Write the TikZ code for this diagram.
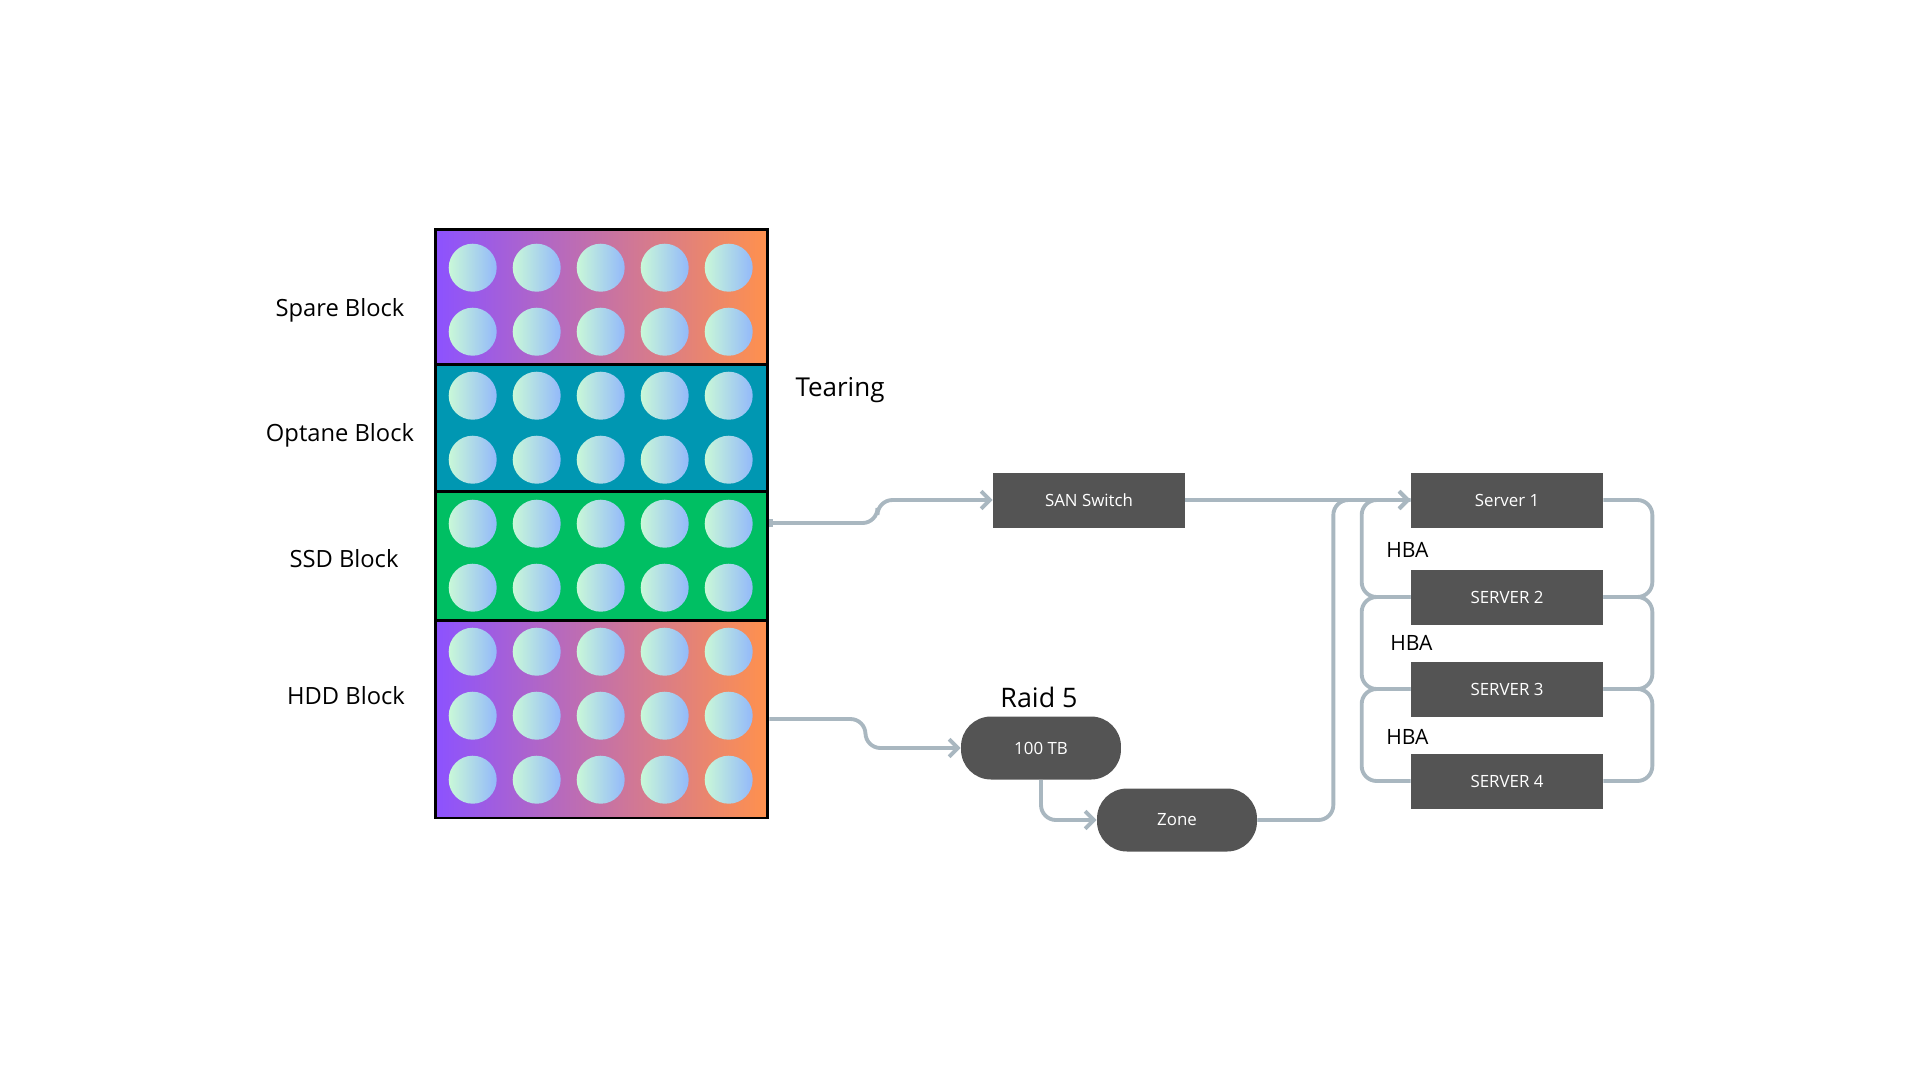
\documentclass[tikz,border=0pt]{standalone}
\usepackage{fontspec}
\setmainfont{Open Sans}
\usetikzlibrary{arrows.meta,positioning}

\definecolor{spareleft}{HTML}{8C52FF}
\definecolor{spareright}{HTML}{FF914D}
\definecolor{optanefill}{HTML}{0097B2}
\definecolor{ssdfill}{HTML}{00BF63}
\definecolor{diskleft}{HTML}{C9F8D8}
\definecolor{diskright}{HTML}{93B9FA}
\definecolor{boxgray}{HTML}{545454}
\definecolor{wiregray}{HTML}{A9B7C0}

\begin{document}
\begin{tikzpicture}[x=0.02cm,y=-0.02cm,>={Straight Barb[length=5pt,width=10pt]},
  block/.style={rectangle,draw=black,line width=1.7pt,minimum width=6.66cm,inner sep=0pt},
  block label/.style={font=\fontsize{13.5}{16}\selectfont},
  dark box/.style={rectangle,fill=boxgray,text=white,inner sep=0pt,
    minimum width=3.84cm,minimum height=1.1cm,font=\fontsize{9.6}{11}\selectfont},
  pill node/.style={rectangle,rounded corners=0.6cm,fill=boxgray,text=white,inner sep=0pt,
    minimum width=3.2cm,minimum height=1.26cm,font=\fontsize{9.6}{11}\selectfont},
  hba label/.style={anchor=west,inner sep=0pt,font=\fontsize{12}{14}\selectfont},
  wire/.style={draw=wiregray,line width=2.2pt,rounded corners=0.3cm}]

  \useasboundingbox (0,0) rectangle (1920,1080);

  % storage blocks
  \node[block,left color=spareleft,right color=spareright,minimum height=2.7cm] (spare) at (601.5,296.5) {};
  \node[block,fill=optanefill,minimum height=2.54cm] (optane) at (601.5,427.5) {};
  \node[block,fill=ssdfill,minimum height=2.58cm] (ssd) at (601.5,555.5) {};
  \node[block,left color=spareleft,right color=spareright,minimum height=3.96cm] (hdd) at (601.5,719) {};

  % disks
  \foreach \col in {0,...,4}
    \foreach \row in {0,...,8}
      \shade[left color=diskleft,right color=diskright] ({472.7+64*\col},{267.7+64*\row}) circle (0.48cm);

  \node[block label] (spare label) at (340,310) {Spare Block};
  \node[block label] (optane label) at (340,435) {Optane Block};
  \node[block label] (ssd label) at (344,559) {SSD Block};
  \node[block label] (hdd label) at (346,696) {HDD Block};
  \node[block label,font=\fontsize{14.8}{17}\selectfont] (tearing) at (840,390) {Tearing};

  % fabric
  \node[dark box] (san) at (1089,500) {SAN Switch};
  \node[dark box] (s1) at (1507,500) {Server 1};
  \node[dark box] (s2) at (1507,597) {SERVER 2};
  \node[dark box] (s3) at (1507,689) {SERVER 3};
  \node[dark box] (s4) at (1507,781) {SERVER 4};

  \node[pill node] (tb) at (1041,748) {100 TB};
  \node[pill node] (zone) at (1177,820) {Zone};
  \node[font=\fontsize{15.3}{18}\selectfont] (raid) at (1039,697) {Raid 5};

  \node[hba label] (hba1) at (1386,550) {HBA};
  \node[hba label] (hba2) at (1390,643) {HBA};
  \node[hba label] (hba3) at (1386,737) {HBA};

  \draw[wire,{Bar[width=5pt]}->] ([yshift=0.65cm]ssd.east) -- ++(108,0) |- (san.west);
  \draw[wire,->] (san.east) -- (s1.west);
  \draw[wire,->] (hdd.east) -- ++(96,0) |- (tb.west);
  \draw[wire,->] (tb.south) |- (zone.west);
  \draw[wire,->] (zone.east) -- ++(76,0) |- (s1.west);

  % HBA loops
  \draw[wire] (s1.west) -- ++(-49,0) |- (s2.west);
  \draw[wire] (s2.west) -- ++(-49,0) |- (s3.west);
  \draw[wire] (s3.west) -- ++(-49,0) |- (s4.west);
  \draw[wire] (s1.east) -- ++(49,0) |- (s2.east);
  \draw[wire] (s2.east) -- ++(49,0) |- (s3.east);
  \draw[wire] (s3.east) -- ++(49,0) |- (s4.east);
\end{tikzpicture}
\end{document}
